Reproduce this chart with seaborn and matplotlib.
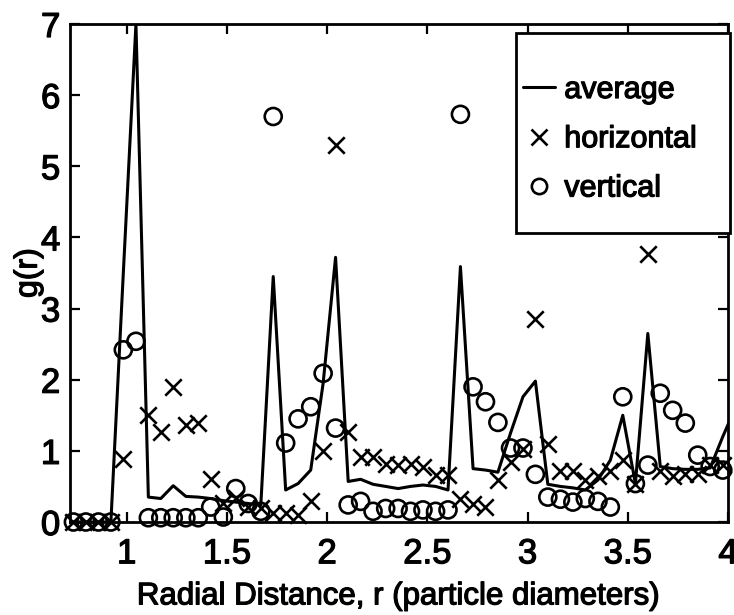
import numpy as np
import matplotlib
matplotlib.use("Agg")
import matplotlib.pyplot as plt
import matplotlib.patheffects as pe
import seaborn as sns
from matplotlib.lines import Line2D
from matplotlib.patches import Rectangle

# ---------------- data ----------------
r = [0.734, 0.796, 0.859, 0.921, 0.983, 1.046, 1.108, 1.170, 1.232, 1.295,
     1.357, 1.419, 1.482, 1.544, 1.606, 1.669, 1.731, 1.793, 1.855, 1.918,
     1.980, 2.042, 2.105, 2.167, 2.229, 2.292, 2.354, 2.416, 2.478, 2.541,
     2.603, 2.665, 2.728, 2.790, 2.852, 2.915, 2.977, 3.039, 3.101, 3.164,
     3.226, 3.288, 3.351, 3.413, 3.475, 3.538, 3.600, 3.662, 3.724, 3.787,
     3.849, 3.911, 3.974, 4.036]

g_average = [0, 0, 0, 0, 3.5, 7.0, 0.35, 0.33, 0.51, 0.36,
             0.35, 0.33, 0.30, 0.28, 0.26, 0.24, 3.45, 0.45, 0.54, 0.73,
             1.95, 3.72, 0.57, 0.60, 0.53, 0.50, 0.47, 0.50, 0.52, 0.50,
             0.45, 3.59, 0.75, 0.73, 0.70, 1.25, 1.76, 1.98, 0.53, 0.50,
             0.48, 0.45, 0.59, 0.87, 1.50, 0.54, 2.65, 0.78, 0.75, 0.74,
             0.74, 0.76, 1.20, 1.60]

g_horizontal = [0, 0, 0, 0, 0.89, np.nan, 1.51, 1.27, 1.90, 1.36,
                1.39, 0.60, 0.27, 0.34, 0.21, 0.20, 0.13, 0.13, 0.10, 0.29,
                1.00, 5.30, 1.27, 0.92, 0.92, 0.82, 0.80, 0.82, 0.78, 0.66,
                0.66, 0.33, 0.26, 0.21, 0.59, 0.85, 1.02, 2.86, 1.10, 0.72,
                0.71, 0.59, 0.64, 0.71, 0.87, 0.54, 3.77, 0.71, 0.64, 0.68,
                0.68, 0.80, 0.80, np.nan]

g_vertical = [0, 0, 0, 0, 2.42, 2.54, 0.06, 0.06, 0.06, 0.06,
              0.06, 0.21, 0.07, 0.47, 0.26, 0.15, 5.70, 1.11, 1.45, 1.62,
              2.09, 1.32, 0.24, 0.29, 0.15, 0.19, 0.19, 0.15, 0.17, 0.15,
              0.17, 5.73, 1.90, 1.69, 1.40, 1.04, 1.04, 0.67, 0.35, 0.32,
              0.28, 0.33, 0.29, 0.21, 1.76, 0.54, 0.80, 1.81, 1.57, 1.39,
              0.94, 0.78, 0.73, np.nan]

x_ticks = [1, 1.5, 2, 2.5, 3, 3.5, 4]
x_tick_labels = ["1", "1.5", "2", "2.5", "3", "3.5", "4"]
y_ticks = [0, 1, 2, 3, 4, 5, 6, 7]
y_tick_labels = ["0", "1", "2", "3", "4", "5", "6", "7"]
legend_labels = ["average", "horizontal", "vertical"]
x_label = "Radial Distance, r (particle diameters)"
y_label = "g(r)"

# ---------------- style ----------------
sns.set_theme(style="white")
plt.rcParams["font.family"] = ["Liberation Sans", "DejaVu Sans"]
plt.rcParams["text.color"] = "black"
plt.rcParams["axes.labelcolor"] = "black"
plt.rcParams["xtick.color"] = "black"
plt.rcParams["ytick.color"] = "black"

heavy = [pe.withStroke(linewidth=0.9, foreground="black")]

W, H = 734, 615
fig = plt.figure(figsize=(W / 100, H / 100), dpi=100)
L, R, T, B = 70, 728, 24, 522
ax = fig.add_axes([L / W, 1 - B / H, (R - L) / W, (B - T) / H])

sns.lineplot(x=r, y=g_average, color="black", linewidth=2.2, ax=ax,
             sort=False, errorbar=None, zorder=2)
sns.scatterplot(x=r, y=g_horizontal, marker="x", s=140, color="black",
                linewidth=1.9, ax=ax, clip_on=False, zorder=3)
sns.scatterplot(x=r, y=g_vertical, marker="o", s=150, facecolor="none",
                edgecolor="black", linewidth=1.9, ax=ax, clip_on=False, zorder=3)

ax.set_xlim(0.717, 4.0)
ax.set_ylim(0, 7)
ax.set_xticks(x_ticks)
ax.set_xticklabels(x_tick_labels)
ax.set_yticks(y_ticks)
ax.set_yticklabels(y_tick_labels)
ax.tick_params(direction="in", length=7, width=1.6, top=True, right=True,
               bottom=True, left=True, labelsize=25)
ax.tick_params(axis="x", pad=11)
ax.tick_params(axis="y", pad=7)
for sp in ax.spines.values():
    sp.set_visible(True)
    sp.set_color("black")
    sp.set_linewidth(2.0)

ax.set_xlabel(x_label, fontsize=22.5, labelpad=8)
ax.set_ylabel(y_label, fontsize=23)
ax.yaxis.set_label_coords(-0.040, 0.5)

for t in ax.get_xticklabels() + ax.get_yticklabels():
    t.set_path_effects(heavy)
ax.xaxis.label.set_path_effects(heavy)
ax.yaxis.label.set_path_effects(heavy)

# legend box (MATLAB-like, drawn as a rectangle) and entries
aw, ah = R - L, B - T
x0 = (516 - L) / aw
x1 = (730 - L) / aw
yt = 1 - (33 - T) / ah
yb = 1 - (233 - T) / ah
ax.add_patch(Rectangle((x0, yb), x1 - x0, yt - yb, transform=ax.transAxes,
                       facecolor="white", edgecolor="black", linewidth=2.0,
                       clip_on=False, zorder=4))
handles = [
    Line2D([], [], color="black", linewidth=2.2),
    Line2D([], [], color="black", marker="x", linestyle="none",
           markersize=11, markeredgewidth=1.9),
    Line2D([], [], color="black", marker="o", linestyle="none",
           markersize=11, markeredgewidth=1.9, markerfacecolor="none"),
]
leg = ax.legend(handles, legend_labels, loc="upper left",
                bbox_to_anchor=((523 - L) / aw, 1 - (75 - T) / ah),
                frameon=False, borderpad=0, borderaxespad=0,
                handlelength=1.05, handletextpad=0.3, labelspacing=0.63,
                fontsize=22)
leg.set_zorder(5)
for t in leg.get_texts():
    t.set_path_effects(heavy)

fig.savefig("out.png", dpi=100)
